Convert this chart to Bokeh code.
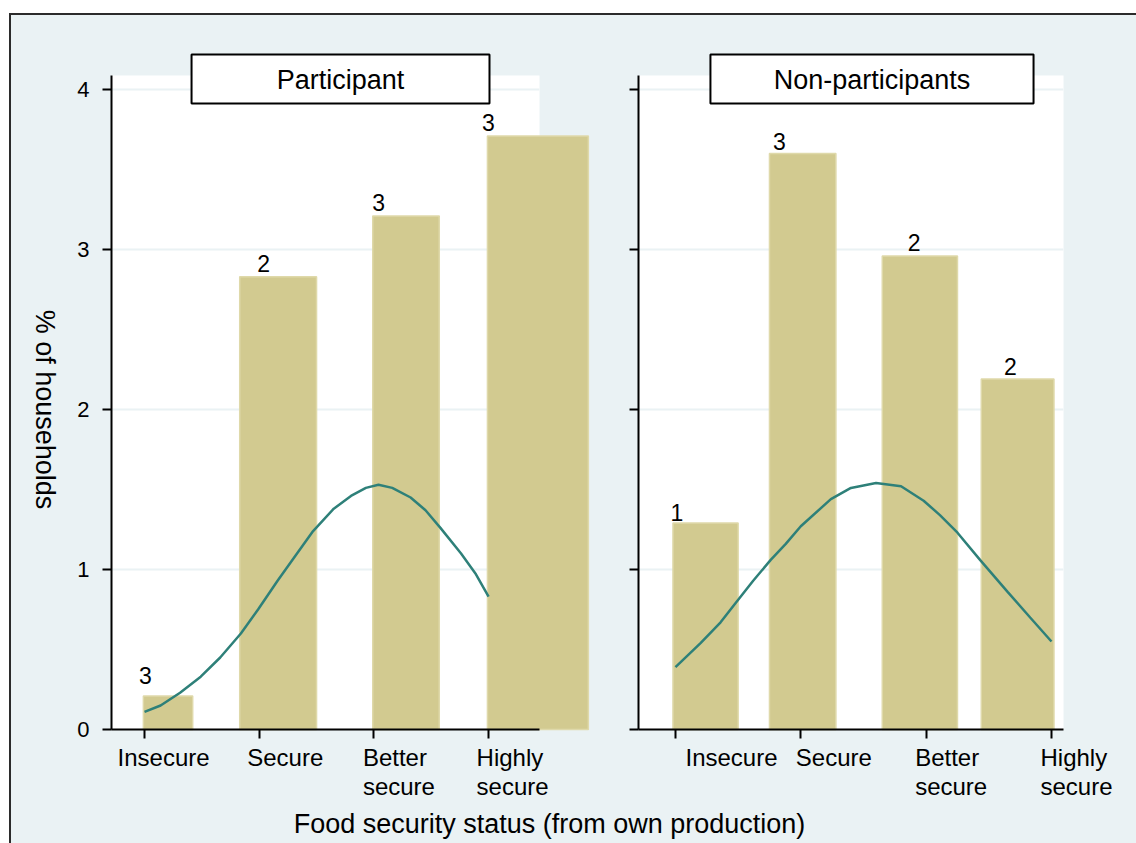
import math
from bokeh.plotting import figure
from bokeh.models import ColumnDataSource, Range1d, FixedTicker, Label
from bokeh.layouts import row, column
from bokeh.embed import file_html
from bokeh.resources import INLINE
from bokeh.core.properties import value

# ---------------- data ----------------
categories = ["Insecure", "Secure", "Better\nsecure", "Highly\nsecure"]
category_pos = [1, 2, 3, 4]
panel_titles = ["Participant", "Non-participants"]
y_ticks = [0, 1, 2, 3, 4]
y_title = "% of households"
x_title = "Food security status (from own production)"

# Participants
part_bin_left = [0.99, 1.83, 2.99, 3.99]
part_bin_right = [1.42, 2.50, 3.57, 4.87]
part_height = [0.21, 2.83, 3.21, 3.71]
part_labels = ["3", "2", "3", "3"]
part_curve_x = [1.00, 1.14, 1.31, 1.49, 1.66, 1.84, 1.99, 2.16, 2.30, 2.47, 2.65,
                2.80, 2.93, 3.04, 3.16, 3.32, 3.45, 3.58, 3.76, 3.89, 4.00]
part_curve_y = [0.11, 0.15, 0.23, 0.33, 0.45, 0.60, 0.75, 0.93, 1.07, 1.24, 1.38,
                1.46, 1.51, 1.53, 1.51, 1.45, 1.37, 1.26, 1.10, 0.97, 0.83]

# Non-participants
non_bin_left = [0.98, 1.75, 2.65, 3.44]
non_bin_right = [1.50, 2.28, 3.25, 4.02]
non_height = [1.29, 3.60, 2.96, 2.19]
non_labels = ["1", "3", "2", "2"]
non_curve_x = [1.00, 1.20, 1.36, 1.48, 1.62, 1.76, 1.88, 2.00, 2.24, 2.40, 2.60,
               2.80, 2.98, 3.11, 3.25, 3.43, 3.65, 3.83, 4.00]
non_curve_y = [0.39, 0.54, 0.67, 0.79, 0.93, 1.06, 1.16, 1.27, 1.44, 1.51, 1.54,
               1.52, 1.43, 1.34, 1.23, 1.06, 0.86, 0.70, 0.55]

# ---------------- style ----------------
FONT = "Liberation Sans"
BG = "#EAF2F4"
BAR_FILL = "#D2CA90"
BAR_LINE = "#DFD9AA"
CURVE = "#2E8079"
PANEL_H = 790

STYLE = [
    dict(width=579, bl=100, br=51, xr=(0.712, 4.444),
         box=(1.41, 4.008), box_text_x=2.709,
         tick_dx=[-27, -12, -11, -12],
         lab_dx=[2, 24, 6, 1], lab_dy=[-20, -13, -13, -13]),
    dict(width=546, bl=48, br=73, xr=(0.705, 4.096),
         box=(1.279, 3.857), box_text_x=2.568,
         tick_dx=[10, -5, -11, -11],
         lab_dx=[4, 10, 32, 29], lab_dy=[-11, -12, -13, -13]),
]


def make_panel(i, left, right, height, labels, cx, cy, show_ylabels):
    st = STYLE[i]
    p = figure(width=st["width"], height=PANEL_H, output_backend="svg",
               toolbar_location=None,
               x_range=Range1d(*st["xr"]), y_range=Range1d(0, 4.0875),
               min_border_left=st["bl"], min_border_right=st["br"],
               min_border_top=60, min_border_bottom=76)
    p.background_fill_color = "white"
    p.border_fill_color = BG
    p.outline_line_color = None

    # grid
    p.xgrid.visible = False
    p.ygrid.ticker = FixedTicker(ticks=y_ticks)
    p.ygrid.grid_line_color = BG
    p.ygrid.grid_line_width = 2

    # axes
    for ax in (p.xaxis, p.yaxis):
        ax.axis_line_color = "black"
        ax.axis_line_width = 2
        ax.major_tick_line_color = "black"
        ax.major_tick_line_width = 2
        ax.major_tick_out = 9
        ax.major_tick_in = 0
        ax.minor_tick_out = 0
        ax.minor_tick_in = 0
        ax.level = "overlay"
    p.xaxis.ticker = FixedTicker(ticks=category_pos)
    p.xaxis.major_label_overrides = {c: "" for c in category_pos}
    p.yaxis.ticker = FixedTicker(ticks=y_ticks)
    p.yaxis.major_label_text_font = FONT
    p.yaxis.major_label_text_font_size = "22px"
    p.yaxis.major_label_text_color = "black"
    p.yaxis.major_label_standoff = 13
    if not show_ylabels:
        p.yaxis.major_label_overrides = {t: "" for t in y_ticks}

    # bars
    src = ColumnDataSource(dict(left=left, right=right, top=height, lab=labels,
                                lx=left, dx=st["lab_dx"], dy=st["lab_dy"]))
    p.quad(left="left", right="right", bottom=0, top="top", source=src,
           fill_color=BAR_FILL, line_color=BAR_LINE, line_width=1.5,
           level="annotation")
    # normal density curve
    p.line(cx, cy, line_color=CURVE, line_width=2.5, level="annotation")
    # bar labels
    p.text(x="lx", y="top", text="lab", x_offset="dx", y_offset="dy", source=src,
           text_align="center", text_baseline="middle",
           text_font=value(FONT), text_font_size="23px", text_color="black",
           level="annotation")

    # x category labels (drawn as text below the axis)
    cat_src = ColumnDataSource(dict(x=category_pos, y=[-0.0875] * len(category_pos),
                                    t=categories, dx=st["tick_dx"]))
    p.text(x="x", y="y", text="t", x_offset="dx", source=cat_src,
           text_align="left", text_baseline="top",
           text_font=value(FONT), text_font_size="24px",
           text_line_height=1.1, text_color="black", level="overlay")

    # panel header box
    bx0, bx1 = st["box"]
    p.quad(left=[bx0], right=[bx1], bottom=[3.9125], top=[4.21875],
           fill_color="white", line_color="black", line_width=2, level="overlay")
    p.text(x=[st["box_text_x"]], y=[4.0625], text=[panel_titles[i]],
           text_align="center", text_baseline="middle",
           text_font=value(FONT), text_font_size="27px",
           text_color="black", level="overlay")
    return p


p1 = make_panel(0, part_bin_left, part_bin_right, part_height, part_labels,
                part_curve_x, part_curve_y, True)
p1.text(x=[0.128], y=[2.0], text=[y_title], angle=-math.pi / 2,
        text_align="center", text_baseline="middle",
        text_font=value(FONT), text_font_size="27px", text_color="black",
        level="overlay")

p2 = make_panel(1, non_bin_left, non_bin_right, non_height, non_labels,
                non_curve_x, non_curve_y, False)

p3 = figure(width=1125, height=38, output_backend="svg", toolbar_location=None,
            x_range=Range1d(0, 1125), y_range=Range1d(0, 38),
            x_axis_location=None, y_axis_location=None,
            min_border=0, min_border_left=0, min_border_right=0,
            min_border_top=0, min_border_bottom=0)
p3.background_fill_color = BG
p3.border_fill_color = BG
p3.outline_line_color = None
p3.grid.visible = False
p3.add_layout(Label(x=538, y=35, text=x_title, text_align="center",
                    text_baseline="top", text_font=FONT, text_font_size="27px",
                    text_color="black"))

layout = column(row(p1, p2), p3, margin=(13, 0, 0, 9),
                styles={"border-top": "2px solid #2b2b2b",
                        "border-left": "2px solid #2b2b2b",
                        "background-color": BG})

open("out.html", "w").write(file_html(layout, INLINE))
